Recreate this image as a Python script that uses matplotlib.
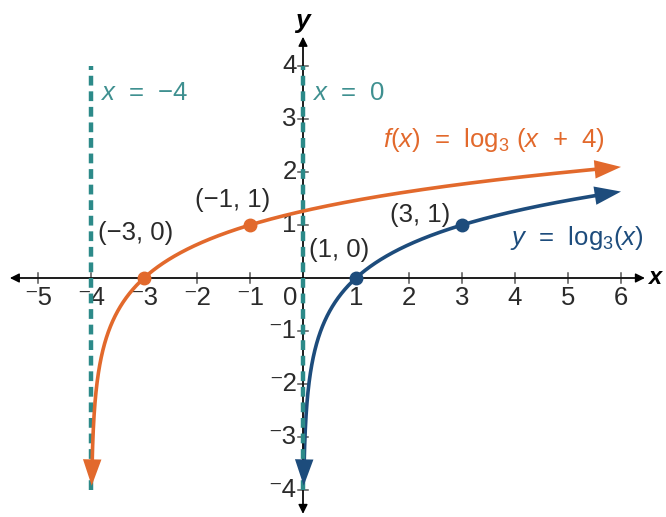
import numpy as np
import matplotlib
matplotlib.use("Agg")
import matplotlib.pyplot as plt

plt.rcParams['font.family'] = ['Liberation Sans', 'DejaVu Sans']
plt.rcParams['mathtext.fontset'] = 'custom'
plt.rcParams['mathtext.rm'] = 'Liberation Sans'
plt.rcParams['mathtext.it'] = 'Liberation Sans:italic'
plt.rcParams['mathtext.bf'] = 'Liberation Sans:bold:italic'

# ---- data ----
base = 3
shift = 4
x_ticks = [-5, -4, -3, -2, -1, 1, 2, 3, 4, 5, 6]
y_ticks = [-4, -3, -2, -1, 1, 2, 3, 4]
asymptotes = [-4, 0]
asym_labels = ["$x$  =  \u22124", "$x$  =  0"]
f_points_x = [-3, -1]
f_points_y = [0, 1]
f_point_labels = ["(\u22123, 0)", "(\u22121, 1)"]
g_points_x = [1, 3]
g_points_y = [0, 1]
g_point_labels = ["(1, 0)", "(3, 1)"]
x_end = 6
y_bottom = -3.92

ORANGE = '#E2692C'
NAVY = '#1D4C7C'
TEAL = '#2C8A89'
TEAL_TXT = '#3F9090'
TXT = '#2a2a2a'
FS = 18.5

fig = plt.figure(figsize=(6.66, 5.17), dpi=100)
ax = fig.add_axes([0, 0, 1, 1])
ax.set_xlim(-303/53, (666-303)/53)
ax.set_ylim((278-517)/53, 278/53)
ax.axis('off')

# axes
axc = '#555555'
ax.annotate('', xy=(-5.53, 0), xytext=(6.45, 0),
            arrowprops=dict(arrowstyle='<|-|>', color='black', lw=1.0,
                            mutation_scale=14, shrinkA=0, shrinkB=0))
ax.annotate('', xy=(0, 4.55), xytext=(0, -4.45),
            arrowprops=dict(arrowstyle='<|-|>', color='black', lw=1.0,
                            mutation_scale=14, shrinkA=0, shrinkB=0))
ax.plot([-5.45, 6.35], [0, 0], color=axc, lw=1.2, zorder=1)
ax.plot([0, 0], [-4.35, 4.45], color=axc, lw=1.2, zorder=1)

tl = 0.1
for t in x_ticks:
    ax.plot([t, t], [-tl, tl], color=axc, lw=1.1, zorder=1)
    lab = ('\u207b' + str(abs(t))) if t < 0 else str(t)
    ax.text(t, -0.15, lab, ha='center', va='top', fontsize=FS, color=TXT)
for t in y_ticks:
    ax.plot([-tl, tl], [t, t], color=axc, lw=1.1, zorder=1)
    lab = ('\u207b' + str(abs(t))) if t < 0 else str(t)
    ax.text(-0.12, t, lab, ha='right', va='center', fontsize=FS, color=TXT)
ax.text(-0.1, -0.15, '0', ha='right', va='top', fontsize=FS, color=TXT)
ax.text(6.49, 0, r'$\mathbf{x}$', ha='left', va='center', fontsize=17, color='black')
ax.text(0.0, 4.82, r'$\mathbf{y}$', ha='center', va='center', fontsize=19, color='black')

# asymptotes
for a, lab in zip(asymptotes, asym_labels):
    ax.plot([a, a], [-4, 4], color=TEAL, lw=3.2, ls=(0, (2.2, 1.3)), zorder=3)
    ax.text(a + 0.17, 3.5, lab, ha='left', va='center', fontsize=FS, color=TEAL_TXT)

# curves
HEAD = 0.36  # arrow head length in data units
def draw_curve(sh, color, z):
    ys = np.linspace(y_bottom, np.log(x_end + sh) / np.log(base), 6000)
    xs = base ** ys - sh
    seg = np.hypot(np.diff(xs), np.diff(ys))
    s = np.concatenate([[0], np.cumsum(seg)])
    L = s[-1]
    i0 = np.searchsorted(s, HEAD)
    i1 = np.searchsorted(s, L - HEAD)
    ax.plot(xs[i0:i1+1], ys[i0:i1+1], color=color, lw=2.6, zorder=z,
            solid_capstyle='butt')
    for tip, tail in [(-1, i1 - 5), (0, i0 + 5)]:
        ax.annotate('', xy=(xs[tip], ys[tip]), xytext=(xs[tail], ys[tail]),
                    arrowprops=dict(arrowstyle='-|>,head_length=1.0,head_width=0.35',
                                    color=color, lw=0, mutation_scale=19,
                                    shrinkA=0, shrinkB=0), zorder=z + 1)

draw_curve(shift, ORANGE, 4)
draw_curve(0, NAVY, 2)

ax.plot(f_points_x, f_points_y, 'o', color=ORANGE, ms=9, zorder=6)
ax.plot(g_points_x, g_points_y, 'o', color=NAVY, ms=9, zorder=6)

ax.text(-3.87, 0.85, f_point_labels[0], ha='left', va='center', fontsize=FS, color=TXT)
ax.text(-2.04, 1.47, f_point_labels[1], ha='left', va='center', fontsize=FS, color=TXT)
ax.text(0.11, 0.53, g_point_labels[0], ha='left', va='center', fontsize=FS, color=TXT)
ax.text(1.64, 1.19, g_point_labels[1], ha='left', va='center', fontsize=FS, color=TXT)

ax.text(1.51, 2.6, r'$f$($x$)  =  log$_3$ ($x$  +  4)', ha='left', va='center',
        fontsize=FS, color=ORANGE)
ax.text(3.91, 0.75, r'$y$  =  log$_3$($x$)', ha='left', va='center',
        fontsize=FS, color=NAVY)

fig.savefig('out.png', dpi=100)
